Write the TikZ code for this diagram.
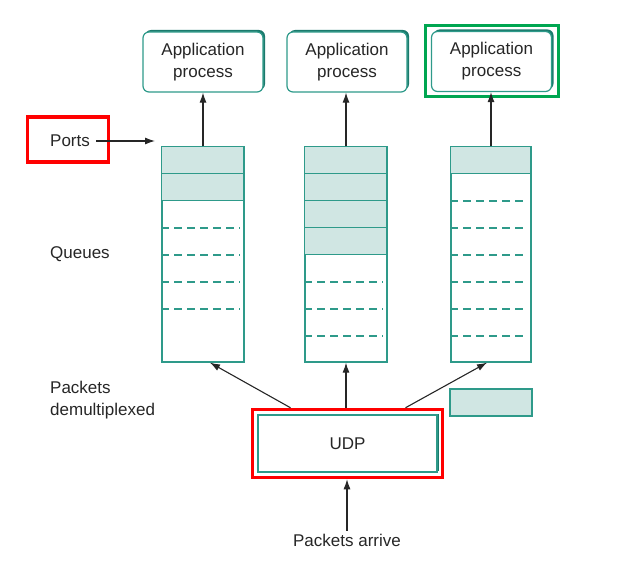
\documentclass[tikz,border=0pt]{standalone}
\usepackage{fontspec}
\setmainfont{Liberation Sans}
\usetikzlibrary{arrows.meta,fit,shadows}
\definecolor{tealline}{HTML}{2E9A8A}
\definecolor{tealdark}{HTML}{1B7A6C}
\definecolor{cellfill}{HTML}{D0E6E3}
\definecolor{framered}{HTML}{FF0000}
\definecolor{framegreen}{HTML}{00A651}
\tikzset{
  txt/.style={font=\fontsize{17}{22}\selectfont, inner sep=0pt, text=black!85},
  appbox/.style={txt, draw=tealline, line width=1.2pt, rounded corners=6pt, fill=white,
    minimum width=120pt, minimum height=60pt, align=center,
    general shadow={fill=tealdark, shadow xshift=2pt, shadow yshift=2pt}},
  queue/.style={draw=tealline, line width=1.3pt, fill=white, minimum height=215pt, inner sep=0pt},
  cell/.style={draw=tealline, line width=1.3pt, fill=cellfill},
  slot/.style={draw=tealline, line width=1.8pt, dash pattern=on 8pt off 5pt},
  arr/.style={draw=black!85, line width=1.1pt, -{Latex[length=10pt,width=7pt]}},
  redframe/.style={draw=framered, line width=3.5pt, inner sep=0pt},
  greenframe/.style={draw=framegreen, line width=3pt, inner sep=0pt}
}
\begin{document}
\begin{tikzpicture}[x=1pt, y=-1pt]
    \useasboundingbox (0,0) rectangle (618,575);

    \node[appbox] (app1) at (203,62) {Application\\process};
    \node[appbox] (app2) at (347,62) {Application\\process};
    \node[appbox] (app3) at (491.5,61.5) {Application\\process};
    \node[greenframe, minimum width=133pt, minimum height=71pt] (appframe) at (491.5,61.5) {};

    \node[queue, minimum width=82pt] (q1) at (203,254.5) {};
    \node[queue, minimum width=82pt] (q2) at (346,254.5) {};
    \node[queue, minimum width=80pt] (q3) at (491,254.5) {};

    \foreach \i in {0,1}
        \draw[cell] (q1.north west) ++(0,\i*27) rectangle ++(82,27);
    \foreach \i in {3,...,6}
        \draw[slot] (q1.north west) ++(0,\i*27+0.5) -- ++(79,0);
    \foreach \i in {0,...,3}
        \draw[cell] (q2.north west) ++(0,\i*27) rectangle ++(82,27);
    \foreach \i in {5,...,7}
        \draw[slot] (q2.north west) ++(0,\i*27+0.5) -- ++(79,0);
    \draw[cell] (q3.north west) rectangle ++(80,27);
    \foreach \i in {2,...,7}
        \draw[slot] (q3.north west) ++(0,\i*27+0.5) -- ++(77,0);

    \draw[arr] (q1.north) -- (q1.north |- app1.south);
    \draw[arr] (q2.north) -- (q2.north |- app2.south);
    \draw[arr] (q3.north) -- (q3.north |- app3.south);

    \node[txt] (ports) at (70,141) {Ports};
    \node[redframe, minimum width=81pt, minimum height=45pt] (portsframe) at (68,139.5) {};
    \coordinate (portsend) at (155,141);
    \draw[arr] ([xshift=6pt]ports.east) -- (ports.east -| portsend);

    \node[txt, anchor=west] (queues) at (50,254) {Queues};
    \node[txt, anchor=west, align=left] (demux) at (50,400) {Packets\\demultiplexed};

    \node[draw=tealline, line width=1.2pt, fill=white, minimum width=179pt, minimum height=57pt,
        general shadow={fill=tealdark, shadow xshift=2pt, shadow yshift=1pt}, txt] (udp) at (347.5,443.5) {UDP};
    \node[redframe, minimum width=190pt, minimum height=68pt] (udpframe) at (347.5,443.5) {};
    \node[cell, minimum width=82pt, minimum height=27pt, inner sep=0pt] (packet) at (491,402.5) {};

    \draw[arr] ([xshift=-57pt]udpframe.north) -- ([xshift=7pt]q1.south);
    \draw[arr] (q2.south |- udpframe.north) -- (q2.south);
    \draw[arr] ([xshift=58pt]udpframe.north) -- ([xshift=-4pt]q3.south);

    \node[txt] (arrive) at (347,540) {Packets arrive};
    \draw[arr] ([yshift=3pt]arrive.north) -- (arrive.north |- udpframe.south);
\end{tikzpicture}
\end{document}
